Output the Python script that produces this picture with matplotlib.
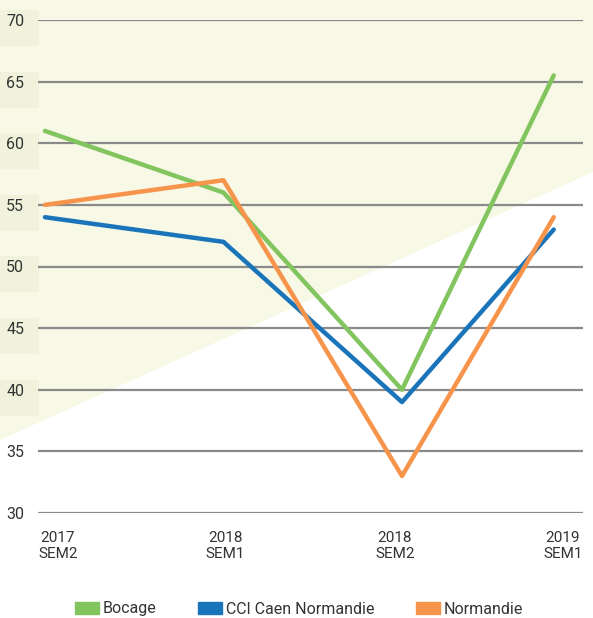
import matplotlib.pyplot as plt
from matplotlib.patches import Polygon, Rectangle, Patch
from matplotlib.transforms import ScaledTranslation

plt.rcParams['font.family'] = ['Roboto', 'DejaVu Sans']

periods = ['2017\nSEM2', '2018\nSEM1', '2018\nSEM2', '2019\nSEM1']
bocage = [61, 56, 40, 65.5]
cci = [54, 52, 39, 53]
normandie = [55, 57, 33, 54]
yticks = [30, 35, 40, 45, 50, 55, 60, 65, 70]

# the last period sits closer than the others in the original picture
xpos = [0, 1, 2, 2.85]

green = '#82c45e'
blue = '#1a74ba'
orange = '#f7944c'

W, H = 593, 618
fig = plt.figure(figsize=(W / 100, H / 100), dpi=100)

# cream background wedge + label tiles
fig.patches.append(Polygon([(0, 1), (1, 1), (1, 1 - 172 / H), (0, 1 - 440 / H)],
                           closed=True, transform=fig.transFigure,
                           facecolor='#f7f8e5', edgecolor='none', zorder=0))
for y0 in [10, 72, 133, 195, 256, 318, 380]:
    fig.patches.append(Rectangle((0, 1 - (y0 + 36) / H), 39 / W, 36 / H,
                                 transform=fig.transFigure, facecolor='#f0f2db',
                                 edgecolor='none', zorder=0))

ax = fig.add_axes([38 / W, 1 - 513 / H, (583 - 38) / W, (513 - 20) / H])
ax.set_zorder(2)
ax.patch.set_alpha(0)

ax.plot(xpos, bocage, color=green, lw=3.2, solid_capstyle='round', clip_on=False, zorder=3)
ax.plot(xpos, cci, color=blue, lw=3.2, solid_capstyle='round', clip_on=False, zorder=3)
ax.plot(xpos, normandie, color=orange, lw=3.2, solid_capstyle='round', clip_on=False, zorder=4)

ax.set_ylim(30, 70)
ax.set_xlim(-0.039, 3.014)
ax.set_yticks(yticks)
ax.grid(axis='y', color='#8a8a8a', lw=1.6)
ax.set_axisbelow(True)
for s in ax.spines.values():
    s.set_visible(False)

ax.set_xticks(xpos)
ax.set_xticklabels(periods, fontsize=11, color='#333333', linespacing=1.15)
ax.tick_params(axis='x', length=0, pad=13)
ax.tick_params(axis='y', length=0, pad=10, labelsize=11.5, labelcolor='#333333')

# nudge x labels like the reference
shifts = [13, 2, -7, 9]
for lab, dx in zip(ax.get_xticklabels(), shifts):
    lab.set_transform(lab.get_transform() + ScaledTranslation(dx / 100, 0, fig.dpi_scale_trans))

handles = [Patch(color=green, label='Bocage'),
           Patch(color=blue, label='CCI Caen Normandie'),
           Patch(color=orange, label='Normandie')]
fig.legend(handles=handles, loc='center', bbox_to_anchor=(0.504, 1 - 609 / H),
           ncol=3, frameon=False, fontsize=11.5, handlelength=1.5,
           handleheight=0.7, handletextpad=0.25, columnspacing=2.6,
           labelcolor='#333333')

fig.savefig('out.png', dpi=100)
